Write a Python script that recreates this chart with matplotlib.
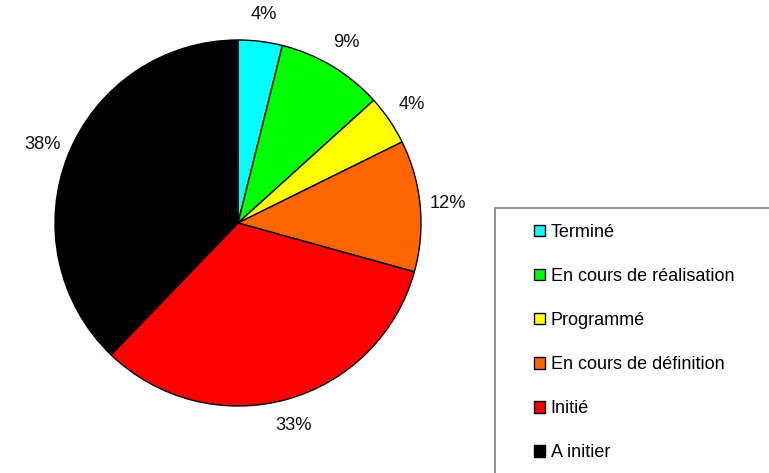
import matplotlib.pyplot as plt
from matplotlib.patches import Patch, Rectangle

# données du graphique
categories = ['Terminé', 'En cours de réalisation', 'Programmé',
              'En cours de définition', 'Initié', 'A initier']
values = [3.9, 9.4, 4.4, 11.6, 32.9, 37.8]
colors = ['#00FFFF', '#00FF00', '#FFFF00', '#FF6600', '#FF0000', '#000000']

plt.rcParams['font.family'] = ['Liberation Sans', 'DejaVu Sans']

W, H = 769, 473
fig = plt.figure(figsize=(W / 100, H / 100), dpi=100)

# axe centré sur le camembert (centre 238,223 ; rayon 183 px)
cx, cy, r, half = 238, 223, 183, 215
ax = fig.add_axes([(cx - half) / W, (H - cy - half) / H, 2 * half / W, 2 * half / H])
ax.pie(values, colors=colors, startangle=90, counterclock=False, radius=1,
       autopct='%.0f%%', pctdistance=1.15,
       wedgeprops=dict(edgecolor='black', linewidth=1),
       textprops=dict(fontsize=13.2, color='#111111'))
lim = half / r
ax.set_xlim(-lim, lim)
ax.set_ylim(-lim, lim)
ax.set_aspect('equal')
ax.axis('off')

# cadre de la légende
fig.patches.append(Rectangle((495 / W, -0.1), 0.5, (H - 208) / H + 0.1,
                             transform=fig.transFigure, fill=False,
                             edgecolor='#7F7F7F', linewidth=1.2))

handles = [Patch(facecolor=c, edgecolor='black', linewidth=1) for c in colors]
fig.legend(handles, categories, loc='upper left',
           bbox_to_anchor=(525 / W, 1 - 215 / H), frameon=False,
           fontsize=13, handlelength=0.58, handleheight=0.58,
           handletextpad=0.35, labelspacing=1.5, borderpad=0)

fig.savefig('out.png', dpi=100)
